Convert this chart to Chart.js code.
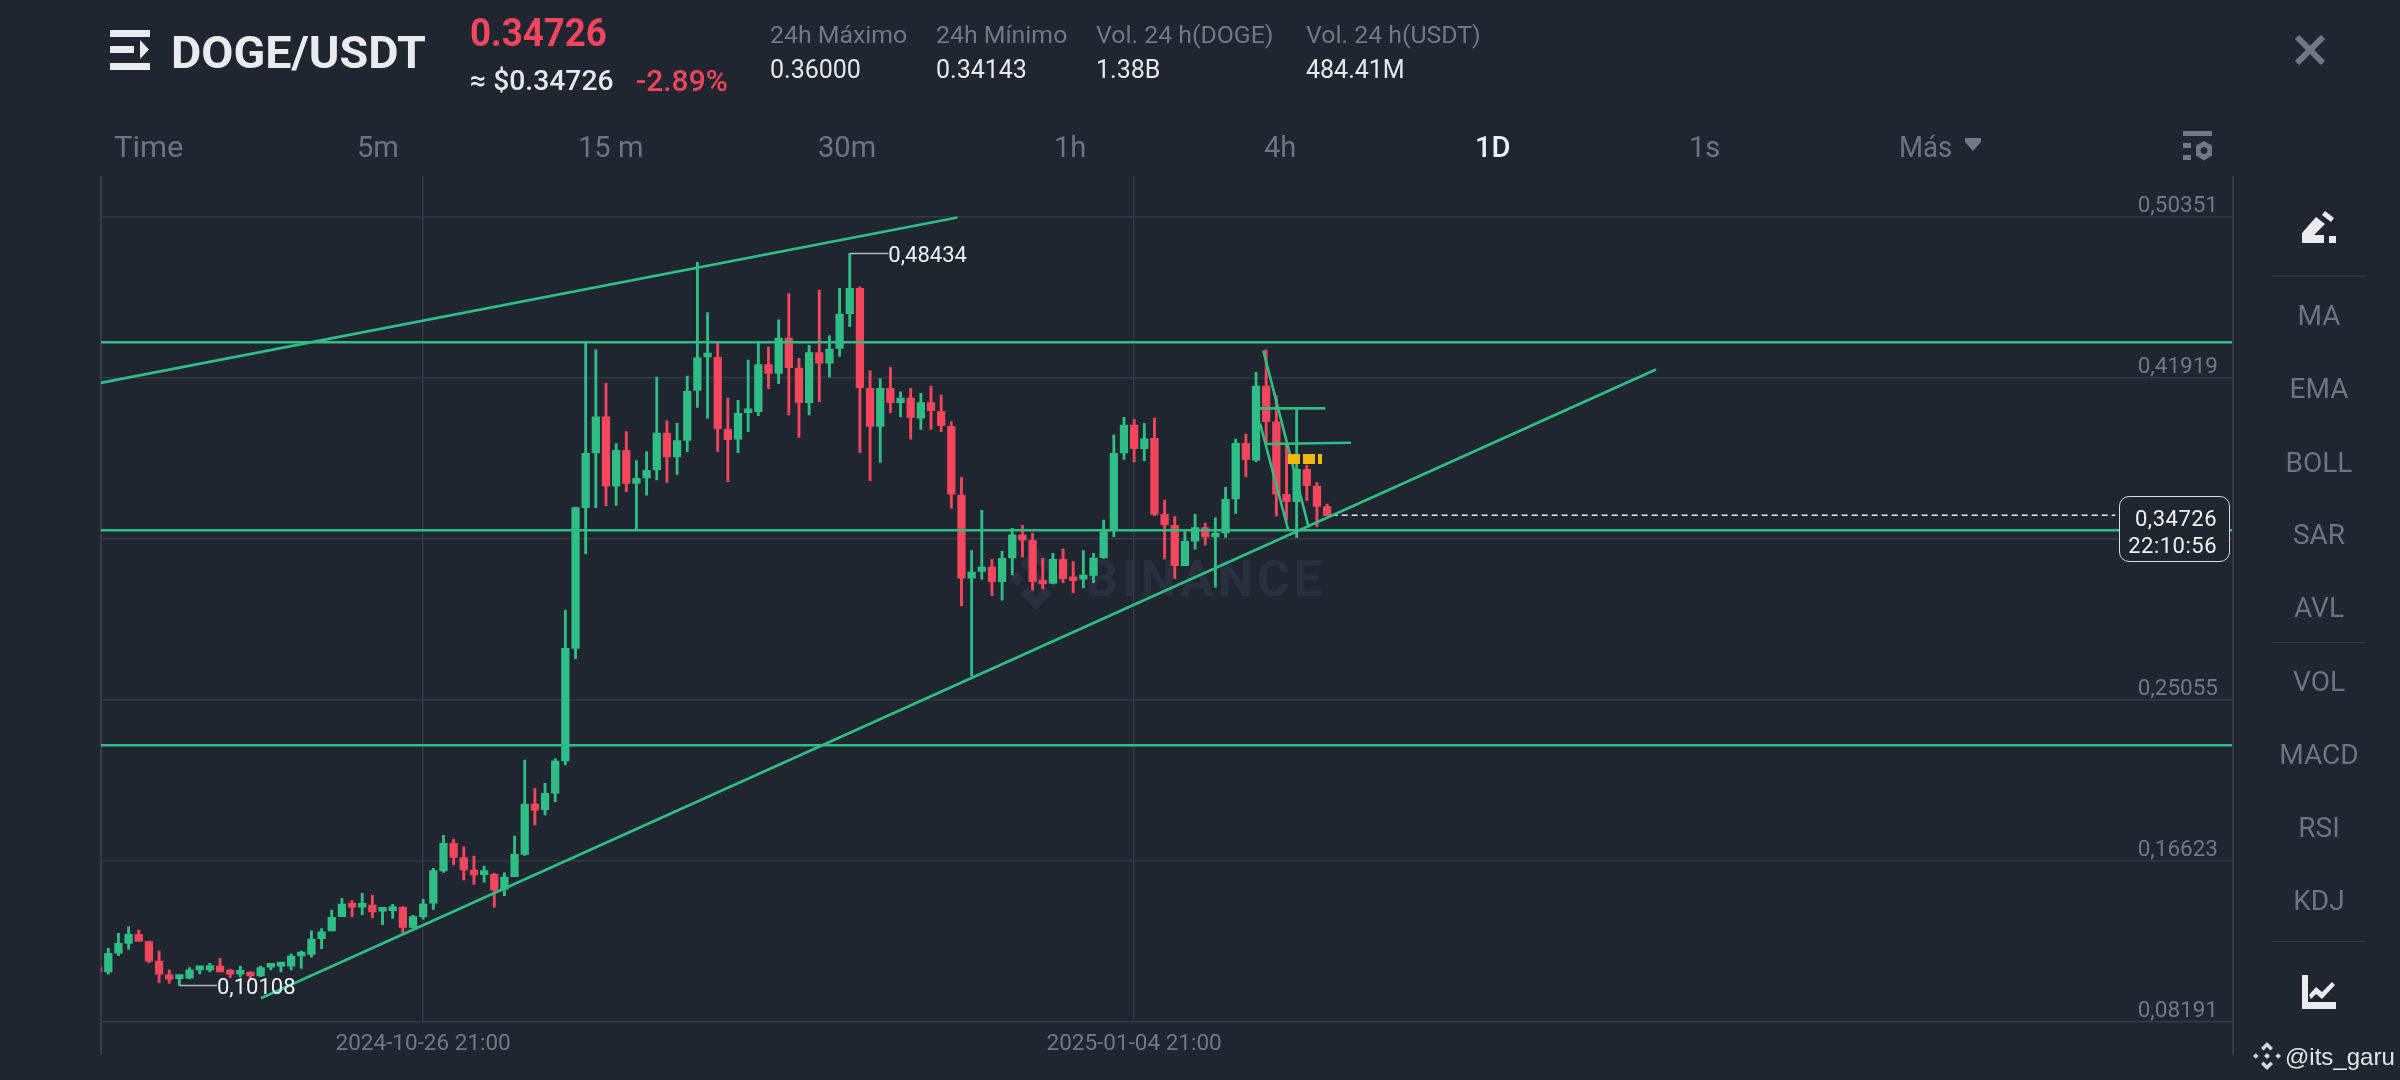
<!DOCTYPE html>
<html>
<head>
<meta charset="utf-8">
<script src="https://cdn.jsdelivr.net/npm/chart.js@4/dist/chart.umd.min.js"></script>
<style>
html,body{margin:0;padding:0;width:2400px;height:1080px;background:#1f2630;overflow:hidden;font-family:Roboto,sans-serif}
canvas{position:absolute;left:0;top:0;z-index:2}
.t{position:absolute;line-height:40px;height:40px;white-space:nowrap;z-index:3;transform-origin:left center}
.g{color:#717885}.w{color:#e6e8ec}.r{color:#f6465d}
.s{font-size:24px;transform:scaleX(1.035)}
.v{font-size:25px}
.tab{font-size:30px;color:#6d7481;transform:scaleX(.97)}
.side{font-size:28px;color:#6d7481;left:2319px;transform:translateX(-50%)}
.sep{position:absolute;left:2272px;width:93px;height:1px;background:#323945;z-index:3}
.vline{position:absolute;width:1.5px;background:#343b47;top:176px;height:879px;z-index:1}
svg{position:absolute;z-index:3}
</style>
</head>
<body>
<div class="vline" style="left:100px"></div>
<div class="vline" style="left:2232px"></div>

<!-- watermark -->
<svg style="left:1008px;top:546px;z-index:1" width="56" height="66" viewBox="0 0 56 66" fill="#2a303b">
  <path d="M28 2l16 16-7 7-9-9-9 9-7-7z"/><path d="M2 33l7-7 7 7-7 7z"/><path d="M40 33l7-7 7 7-7 7z"/><path d="M21 33l7-7 7 7-7 7z"/><path d="M28 64L12 48l7-7 9 9 9-9 7 7z"/>
</svg>
<div class="t" style="z-index:1;left:1086px;top:559px;font-size:50px;font-weight:700;color:#2a303b;letter-spacing:4px">BINANCE</div>

<!-- header -->
<svg style="left:110px;top:30px" width="40" height="40" viewBox="0 0 40 40" fill="#e9ebef">
  <rect x="0" y="0" width="40" height="7"/><rect x="0" y="16" width="24" height="7"/><path d="M30 10l9 9.500-9 9.500z"/><rect x="0" y="33" width="40" height="7"/>
</svg>
<div class="t" style="left:171px;top:33px;font-size:44px;font-weight:700;color:#e9ebef;transform:scaleX(1.06)">DOGE/USDT</div>
<div class="t r" style="left:470px;top:13px;font-size:39px;font-weight:700;transform:scaleX(.94)">0.34726</div>
<div class="t w" style="left:470px;top:61px;font-size:28px;font-weight:500;transform:scaleX(1.01)">≈ $0.34726</div>
<div class="t r" style="left:636px;top:61px;font-size:30px;font-weight:500">-2.89%</div>

<div class="t g s" style="left:770px;top:15px">24h Máximo</div>
<div class="t w v" style="left:770px;top:50px">0.36000</div>
<div class="t g s" style="left:936px;top:15px">24h Mínimo</div>
<div class="t w v" style="left:936px;top:50px">0.34143</div>
<div class="t g s" style="left:1096px;top:15px">Vol. 24 h(DOGE)</div>
<div class="t w v" style="left:1096px;top:50px">1.38B</div>
<div class="t g s" style="left:1306px;top:15px">Vol. 24 h(USDT)</div>
<div class="t w v" style="left:1306px;top:50px">484.41M</div>

<!-- period tabs -->
<div class="t tab" style="left:114px;top:127px;transform:scaleX(1.03)">Time</div>
<div class="t tab" style="left:357px;top:127px">5m</div>
<div class="t tab" style="left:578px;top:127px">15 m</div>
<div class="t tab" style="left:818px;top:127px">30m</div>
<div class="t tab" style="left:1054px;top:127px">1h</div>
<div class="t tab" style="left:1264px;top:127px">4h</div>
<div class="t tab" style="left:1475px;top:127px;color:#eceef1;font-weight:500">1D</div>
<div class="t tab" style="left:1689px;top:127px">1s</div>
<div class="t tab" style="left:1899px;top:127px;transform:scaleX(.92)">Más</div>
<svg style="left:1965px;top:138px" width="16" height="13" viewBox="0 0 16 13" fill="#717885"><path d="M0 0h16v4l-8 9-8-9z"/></svg>
<svg style="left:2183px;top:131px" width="30" height="30" viewBox="0 0 30 30" fill="#717885">
  <rect x="0" y="0" width="29" height="5"/><rect x="0" y="12" width="8" height="5"/><rect x="0" y="24" width="8" height="5"/>
  <path fill-rule="evenodd" d="M21 10l8 4.500v10l-8 5-8-5v-10zM21 16a3.500 3.500 0 1 0 .01 0z"/>
</svg>
<svg style="left:2295px;top:35px" width="30" height="30" viewBox="0 0 30 30" stroke="#717885" stroke-width="6" fill="none"><path d="M2 2L28 28M28 2L2 28"/></svg>

<!-- side bar -->
<svg style="left:2302px;top:211px" width="34" height="32" viewBox="0 0 34 32" fill="#e9ebef">
  <path d="M0 32V22L14 6l9 7-11 11h10v8z"/><path d="M20 4l3-4 9 7-3 4z"/><rect x="27" y="25" width="7" height="7"/>
</svg>
<div class="sep" style="top:276px"></div>
<div class="t side" style="top:296px">MA</div>
<div class="t side" style="top:369px">EMA</div>
<div class="t side" style="top:443px">BOLL</div>
<div class="t side" style="top:515px">SAR</div>
<div class="t side" style="top:588px">AVL</div>
<div class="sep" style="top:642px"></div>
<div class="t side" style="top:662px">VOL</div>
<div class="t side" style="top:735px">MACD</div>
<div class="t side" style="top:808px">RSI</div>
<div class="t side" style="top:881px">KDJ</div>
<div class="sep" style="top:941px"></div>
<svg style="left:2302px;top:975px" width="34" height="34" viewBox="0 0 34 34" fill="#e9ebef">
  <path d="M0 0h6v27h28v7H0z"/><path d="M7 20l7-8 6 5 10-10 3 3-13 14-6-5-5 5z"/>
</svg>

<!-- last price box -->
<div style="position:absolute;left:2119px;top:496px;width:109px;height:64px;border:1.5px solid #d8dbe0;border-radius:10px;background:#1f2630;z-index:3"></div>
<div class="t" style="right:183px;top:499px;font-size:22px;color:#f1f2f4;letter-spacing:.5px">0,34726</div>
<div class="t" style="right:183px;top:526px;font-size:22px;color:#f1f2f4;letter-spacing:.5px">22:10:56</div>

<!-- credit -->
<svg style="left:2253px;top:1042px" width="28" height="28" viewBox="0 0 28 28" fill="#d5d7db">
  <path d="M14 0l6 6-2.500 2.500L14 5l-3.500 3.500L8 6z"/><path d="M0 14l2.800-2.800L5.600 14l-2.800 2.800z"/><path d="M22.400 14l2.800-2.800L28 14l-2.800 2.800z"/><path d="M11 14l3-3 3 3-3 3z"/><path d="M14 28l-6-6 2.500-2.500L14 23l3.500-3.500L20 22z"/>
</svg>
<div class="t" style="left:2285px;top:1037px;font-size:24px;font-family:'Liberation Sans';color:#e4e5e8">@its_garu</div>

<canvas id="chart" width="2400" height="1080"></canvas>

<script>
// Candles, one per day; index 0 is the candle clipped at the left edge.
const opens = [.1095,
.1082,.1179,.1231,.1278,.1240,.1138,.1066,.1046,.1048,.1092,
.1092,.1112,.1082,.1070,.1074,.1060,.1106,.1112,.1112,.1165,
.1173,.1255,.1296,.1371,.1437,.1420,.1432,.1399,.1402,.1420,
.1315,.1371,.1441,.1610,.1755,.1680,.1615,.1591,.1592,.1514,
.1580,.1697,.1961,.1931,.2018,.2186,.2776,.3513,.3799,.3988,
.3625,.3813,.3640,.3668,.3710,.3904,.3778,.3865,.4127,.4302,
.4300,.3923,.3871,.4010,.4016,.4262,.4216,.4401,.4244,.4063,
.4325,.4269,.4347,.4529,.4661,.4138,.3939,.4138,.4063,.4087,
.3982,.4063,.4017,.3939,.3579,.3143,.3179,.3202,.3125,.3249,
.3370,.3342,.3125,.3117,.3242,.3141,.3139,.3158,.3251,.3392,
.3799,.3946,.3822,.3876,.3478,.3420,.3209,.3338,.3408,.3359,
.3380,.3558,.3850,.3762,.4150,.3963,.3583,.3544,.3714,.3626,
.3518];
const highs = [.1098,
.1205,.1283,.1318,.1301,.1243,.1191,.1092,.1065,.1104,.1104,
.1126,.1152,.1095,.1112,.1082,.1112,.1118,.1126,.1175,.1190,
.1296,.1308,.1405,.1467,.1455,.1493,.1483,.1406,.1435,.1423,
.1378,.1462,.1624,.1797,.1776,.1736,.1688,.1636,.1598,.1601,
.1793,.2191,.2041,.2069,.2197,.2977,.3516,.4379,.4339,.4164,
.3849,.3911,.3759,.3806,.4197,.3967,.3955,.4202,.4798,.4534,
.4373,.4087,.4075,.4286,.4373,.4354,.4496,.4634,.4295,.4363,
.4653,.4414,.4661,.48434,.4670,.4229,.4188,.4248,.4120,.4138,
.4112,.4150,.4103,.3963,.3672,.3288,.3499,.3242,.3284,.3405,
.3420,.3378,.3247,.3274,.3296,.3230,.3288,.3274,.3448,.3893,
.3986,.3975,.3954,.3982,.3553,.3466,.3387,.3478,.3431,.3460,
.3619,.3872,.3898,.4222,.4339,.4098,.3841,.4033,.3736,.3644,
.3532];
const lows = [.1075,
.1069,.1166,.1200,.1243,.1130,.1025,.1022,.10108,.1045,.1071,
.1082,.1081,.1051,.1056,.1043,.1056,.1092,.1082,.1092,.1100,
.1158,.1203,.1296,.1371,.1369,.1381,.1364,.1329,.1362,.1283,
.1310,.1358,.1409,.1603,.1643,.1563,.1540,.1552,.1420,.1481,
.1580,.1692,.1851,.1903,.1973,.2165,.2722,.3270,.3513,.3522,
.3525,.3597,.3396,.3578,.3658,.3645,.3687,.3806,.4038,.3981,
.3808,.3649,.3801,.3911,.3995,.4136,.4162,.3999,.3881,.3999,
.4068,.4197,.4305,.4461,.3801,.3654,.3750,.4010,.3989,.3872,
.3923,.3923,.3911,.3509,.2998,.2631,.3139,.3052,.3029,.3160,
.3254,.3081,.3087,.3113,.3120,.3068,.3092,.3120,.3247,.3361,
.3766,.3752,.3759,.3471,.3244,.3141,.3209,.3295,.3316,.3096,
.3357,.3483,.3675,.3754,.3850,.3469,.3448,.3357,.3549,.3413,
.3470];
const closes = [.1083,
.1179,.1231,.1278,.1243,.1138,.1069,.1044,.1058,.1092,.1100,
.1114,.1082,.1070,.1081,.1060,.1104,.1114,.1121,.1165,.1177,
.1254,.1292,.1367,.1437,.1420,.1432,.1395,.1406,.1418,.1315,
.1371,.1437,.1612,.1755,.1681,.1615,.1589,.1605,.1510,.1578,
.1697,.1961,.1929,.2017,.2186,.2776,.3513,.3797,.3988,.3625,
.3813,.3640,.3667,.3708,.3904,.3778,.3864,.4122,.4298,.4312,
.3925,.3869,.4007,.4021,.4262,.4216,.4401,.4246,.4063,.4325,
.4269,.4344,.4527,.4661,.4141,.3939,.4138,.4063,.4087,.3984,
.4063,.4021,.3942,.3583,.3143,.3176,.3202,.3125,.3247,.3370,
.3342,.3127,.3113,.3242,.3141,.3130,.3157,.3249,.3387,.3797,
.3946,.3822,.3874,.3478,.3422,.3209,.3336,.3408,.3359,.3378,
.3556,.3850,.3764,.4150,.3963,.3584,.3544,.3714,.3628,.3520,
.34726];

// Axes
const yTickValues = [.08191,.16623,.25055,.33487,.41919,.50351];
const xTickIndices = [32,102];
const xTickLabels = ['2024-10-26 21:00','2025-01-04 21:00'];
const xRange = [.252,210.09];
const yRange = [.08191,.52499];

// Hand-drawn study lines: [xFrom, priceFrom, xTo, priceTo]
const studyLines = [
  [.252,.41663,84.6,.5033],
  [.252,.4379,210.09,.4379],
  [.252,.33943,210.09,.33943],
  [.252,.22683,210.09,.22683],
  [16.03,.09432,153.37,.42364],
  [114.72,.4335,119.15,.3417],
  [114.39,.3955,117.17,.3396],
  [114.39,.4033,120.82,.4033],
  [114.88,.3846,123.35,.3853]
];
const yellowMark = [117.15,.3768,120.5,.3768];
const lastPriceLine = [121.45,.34726,198.6,.34726];
const callouts = [
  {from:8, to:11.7, price:.10108, label:'0,10108'},
  {from:74, to:77.8, price:.48434, label:'0,48434'}
];

const GREEN='#2ebd85', RED='#f6465d';
const candleColor = closes.map((c,i)=> c>=opens[i] ? GREEN : RED);
const seg = (s,extra)=>Object.assign({
  type:'line',
  data:[{x:s[0],y:s[1]},{x:s[2],y:s[3]}],
  borderColor:GREEN,borderWidth:2.6,pointRadius:0,tension:0,order:1
},extra||{});

const calloutText = {
  id:'calloutText',
  afterDatasetsDraw(chart){
    const {ctx,scales:{x,y}}=chart;
    ctx.save();
    ctx.font='22px Roboto';
    ctx.fillStyle='#f0f1f3';
    ctx.textAlign='left';
    ctx.textBaseline='middle';
    callouts.forEach(c=>ctx.fillText(c.label,x.getPixelForValue(c.to),y.getPixelForValue(c.price)+3));
    ctx.restore();
  }
};

new Chart(document.getElementById('chart'),{
  type:'bar',
  data:{datasets:[
    {label:'wick',data:highs.map((h,i)=>({x:i,y:[lows[i],h]})),backgroundColor:candleColor,barThickness:2.2,grouped:false,order:5},
    {label:'body',data:closes.map((c,i)=>({x:i,y:[opens[i],c]})),backgroundColor:candleColor,barThickness:7.6,grouped:false,order:4,minBarLength:4},
    ...studyLines.map(s=>seg(s)),
    seg(yellowMark,{borderColor:'#f0b90b',borderWidth:10,borderDash:[12,3],order:0}),
    seg(lastPriceLine,{borderColor:'#e6e8ec',borderWidth:1.5,borderDash:[6,4]}),
    ...callouts.map(c=>seg([c.from,c.price,c.to,c.price],{borderColor:'#b4b7bc',borderWidth:1.5}))
  ]},
  options:{
    responsive:false,animation:false,devicePixelRatio:1,
    layout:{padding:{left:100.7,right:168,top:176,bottom:0}},
    plugins:{legend:{display:false},tooltip:{enabled:false}},
    scales:{
      x:{
        type:'linear',min:xRange[0],max:xRange[1],offset:false,
        afterFit(s){s.height=58},
        afterBuildTicks(s){s.ticks=xTickIndices.map(value=>({value}))},
        grid:{color:'#323945',lineWidth:1.5,drawTicks:false,offset:false},border:{display:false},
        ticks:{autoSkip:false,maxRotation:0,padding:9,color:'#717885',font:{family:'Roboto',size:22.5},
          callback:v=>xTickLabels[xTickIndices.indexOf(v)]}
      },
      y:{
        position:'right',min:yRange[0],max:yRange[1],
        afterFit(s){s.width=0},
        afterBuildTicks(s){s.ticks=yTickValues.map(value=>({value}))},
        grid:{color:'#323945',lineWidth:1.5,drawTicks:false},border:{display:false},
        ticks:{mirror:true,padding:-14,labelOffset:-11,color:'#717885',font:{family:'Roboto',size:22.5},
          callback:v=>v.toFixed(5).replace('.',',')}
      }
    }
  },
  plugins:[calloutText]
});
</script>
</body>
</html>
